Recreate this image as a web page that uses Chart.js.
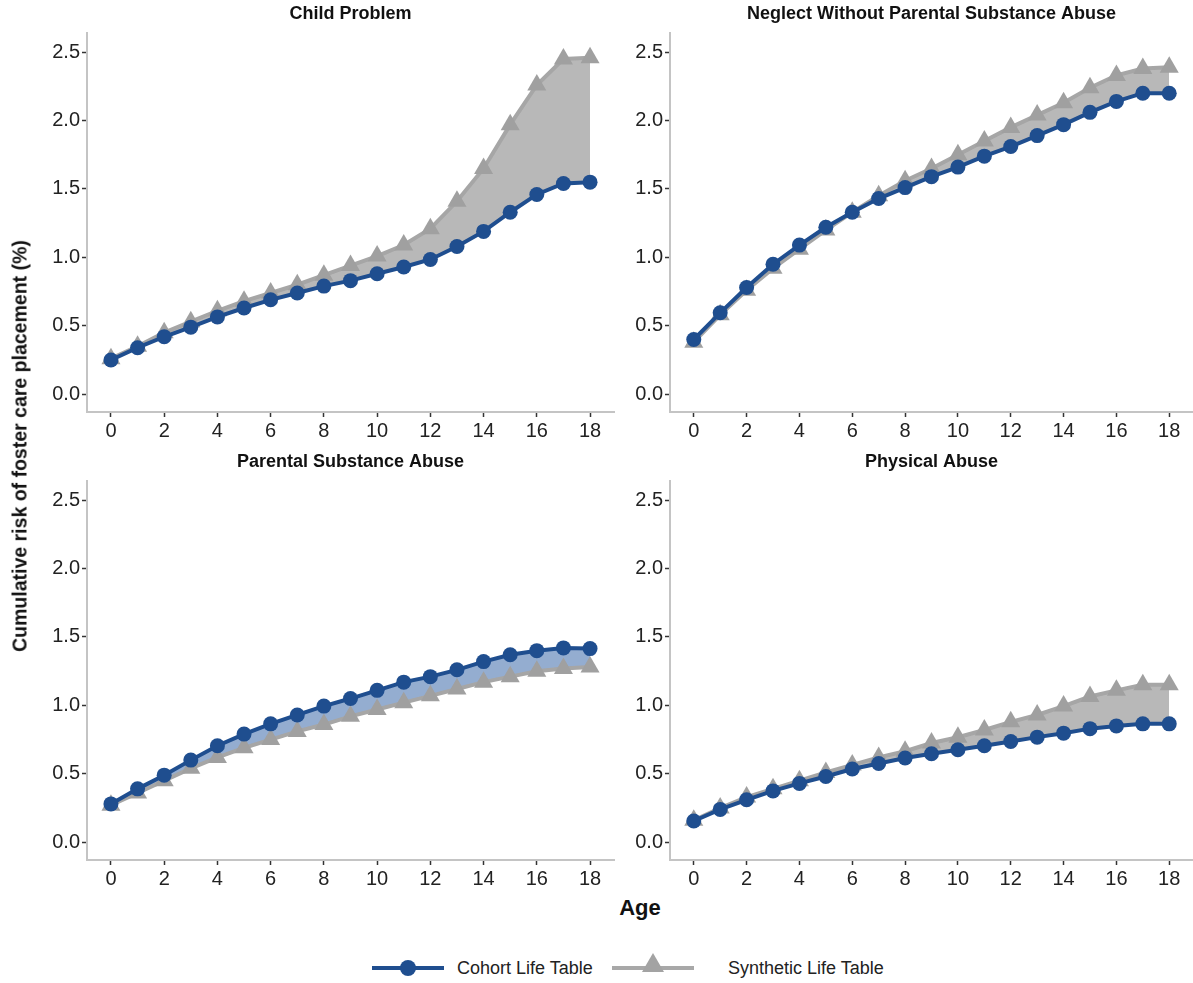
<!DOCTYPE html>
<html>
<head>
<meta charset="utf-8">
<script src="https://cdn.jsdelivr.net/npm/chart.js@4.4.1/dist/chart.umd.min.js"></script>
<style>
  body { margin:0; background:#fff; width:1193px; height:983px; position:relative; overflow:hidden;
         font-family:"Liberation Sans", Arial, sans-serif; }
  .panel { position:absolute; }
  .ytitle { position:absolute; left:20px; top:446px; transform:translate(-50%,-50%) rotate(-90deg);
            font-weight:bold; font-size:19.5px; white-space:nowrap; color:#111; }
  .xtitle { position:absolute; left:640px; top:908px; transform:translate(-50%,-50%);
            font-weight:bold; font-size:22px; color:#111; }
  .lg { position:absolute; }
  .lgtext { position:absolute; top:956px; font-size:18px; line-height:24px; color:#222; }
</style>
</head>
<body>

<div class="panel" style="left:30px;top:0px;"><canvas id="c0" width="595" height="440"></canvas></div>
<div class="panel" style="left:614px;top:0px;"><canvas id="c1" width="590" height="440"></canvas></div>
<div class="panel" style="left:30px;top:448px;"><canvas id="c2" width="595" height="440"></canvas></div>
<div class="panel" style="left:614px;top:448px;"><canvas id="c3" width="590" height="440"></canvas></div>

<div class="ytitle">Cumulative risk of foster care placement (%)</div>
<div class="xtitle">Age</div>

<!-- legend -->
<div class="lg" style="left:372px;top:966px;width:72px;height:4px;background:#1f4e8f;"></div>
<div class="lg" style="left:400px;top:960px;width:16px;height:16px;border-radius:50%;background:#1f4e8f;"></div>
<div class="lgtext" style="left:457px;">Cohort Life Table</div>
<div class="lg" style="left:612px;top:966px;width:82px;height:4px;background:#a8a8a8;"></div>
<div class="lg" style="left:642px;top:953px;width:0;height:0;border-left:11px solid transparent;border-right:11px solid transparent;border-bottom:19px solid #a3a3a3;"></div>
<div class="lgtext" style="left:728px;">Synthetic Life Table</div>

<script>
// ---------------------------------------------------------------- DATA
var ages   = [0,1,2,3,4,5,6,7,8,9,10,11,12,13,14,15,16,17,18];
var xTicks = [0,2,4,6,8,10,12,14,16,18];
var yTicks = [0,0.5,1,1.5,2,2.5];

var titles = ["Child Problem", "Neglect Without Parental Substance Abuse",
              "Parental Substance Abuse", "Physical Abuse"];

var cohortChild   = [0.25,0.34,0.42,0.49,0.565,0.63,0.69,0.74,0.79,0.83,0.88,0.93,0.985,1.08,1.19,1.33,1.46,1.54,1.55];
var synthChild    = [0.26,0.35,0.45,0.53,0.61,0.68,0.74,0.80,0.87,0.94,1.01,1.09,1.21,1.41,1.65,1.97,2.26,2.45,2.46];

var cohortNeglect = [0.40,0.595,0.78,0.95,1.09,1.22,1.33,1.43,1.51,1.59,1.66,1.74,1.81,1.89,1.97,2.06,2.14,2.20,2.20];
var synthNeglect  = [0.38,0.58,0.76,0.92,1.06,1.20,1.33,1.45,1.56,1.65,1.75,1.85,1.95,2.04,2.13,2.24,2.33,2.38,2.39];

var cohortParent  = [0.28,0.39,0.49,0.60,0.705,0.79,0.865,0.93,0.995,1.05,1.11,1.17,1.21,1.26,1.32,1.37,1.40,1.42,1.415];
var synthParent   = [0.27,0.36,0.45,0.54,0.62,0.69,0.75,0.81,0.86,0.92,0.97,1.02,1.07,1.12,1.17,1.21,1.25,1.27,1.28];

var cohortPhys    = [0.155,0.24,0.31,0.375,0.43,0.48,0.535,0.575,0.615,0.647,0.676,0.705,0.736,0.768,0.797,0.83,0.85,0.865,0.865];
var synthPhys     = [0.16,0.25,0.33,0.39,0.45,0.51,0.565,0.62,0.665,0.725,0.767,0.82,0.88,0.93,0.995,1.065,1.11,1.15,1.15];

// ---------------------------------------------------------------- STYLE
var FONT  = '"Liberation Sans", Arial, sans-serif';
var BLUE  = '#1f4e8f';
var GREY  = '#a6a6a6';

// facet strip title, centred over the plot area
var panelTitle = {
  id: 'panelTitle',
  afterDraw: function (chart, args, opts) {
    var a = chart.chartArea, c = chart.ctx;
    c.save();
    c.font = 'bold 18px ' + FONT;
    c.fillStyle = '#111';
    c.textAlign = 'center';
    c.textBaseline = 'middle';
    c.fillText(opts.text, (a.left + a.right) / 2, 14);
    c.restore();
  }
};

function pts(vals) {
  return vals.map(function (v, i) { return { x: ages[i], y: v }; });
}

function makePanel(id, title, cohort, synth, yWidth) {
  var ctx = document.getElementById(id).getContext('2d');
  return new Chart(ctx, {
    type: 'line',
    plugins: [panelTitle],
    data: {
      datasets: [{
        label: 'Cohort Life Table',
        data: pts(cohort),
        borderColor: BLUE, backgroundColor: BLUE,
        borderWidth: 4, tension: 0,
        pointStyle: 'circle', pointRadius: 7.5,
        pointBackgroundColor: BLUE, pointBorderColor: BLUE, pointBorderWidth: 0,
        fill: false
      }, {
        label: 'Synthetic Life Table',
        data: pts(synth),
        borderColor: GREY, backgroundColor: GREY,
        borderWidth: 4, tension: 0,
        pointStyle: 'triangle', pointRadius: 11,
        pointBackgroundColor: '#a0a0a0', pointBorderColor: '#a0a0a0', pointBorderWidth: 0,
        fill: { target: 0, above: 'rgba(172,172,172,0.85)', below: 'rgba(112,145,192,0.75)' }
      }]
    },
    options: {
      responsive: false,
      animation: false,
      devicePixelRatio: 1,
      layout: { padding: { left: 0, top: 33, bottom: 0, right: 0 } },
      plugins: {
        legend: { display: false },
        tooltip: { enabled: false },
        title: { display: false },
        panelTitle: { text: title }
      },
      scales: {
        x: {
          type: 'linear', min: -0.9, max: 18.9,
          afterBuildTicks: function (s) { s.ticks = xTicks.map(function (v) { return { value: v }; }); },
          afterFit: function (s) { s.height = 28; },
          grid: { drawOnChartArea: false, drawTicks: true, tickLength: 5, tickWidth: 1.5, tickColor: '#333' },
          border: { display: true, color: '#c4c4c4', width: 2 },
          ticks: { color: '#222', padding: 2, maxRotation: 0, autoSkip: false,
                   font: { family: FONT, size: 20 } }
        },
        y: {
          type: 'linear', min: -0.13, max: 2.64,
          afterBuildTicks: function (s) { s.ticks = yTicks.map(function (v) { return { value: v }; }); },
          afterFit: function (s) { s.width = yWidth; },
          grid: { drawOnChartArea: false, drawTicks: true, tickLength: 5, tickWidth: 1.5, tickColor: '#333' },
          border: { display: true, color: '#c4c4c4', width: 2 },
          ticks: { color: '#222', padding: 2,
                   font: { family: FONT, size: 20 },
                   callback: function (v) { return Number(v).toFixed(1); } }
        }
      }
    }
  });
}

makePanel('c0', titles[0], cohortChild,   synthChild,   57);
makePanel('c1', titles[1], cohortNeglect, synthNeglect, 56);
makePanel('c2', titles[2], cohortParent,  synthParent,  57);
makePanel('c3', titles[3], cohortPhys,    synthPhys,    56);
</script>
</body>
</html>
